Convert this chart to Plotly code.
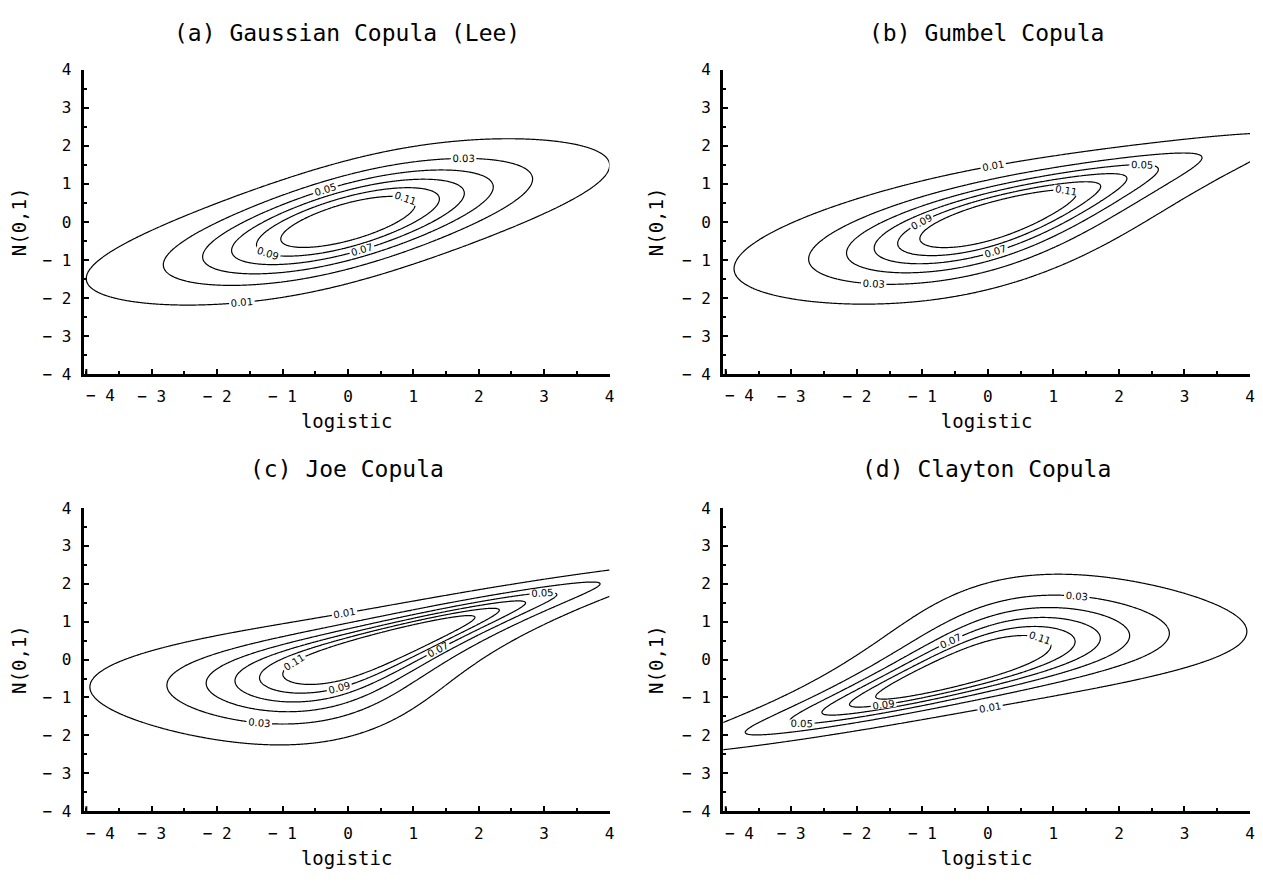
import numpy as np
import plotly.graph_objects as go
from statistics import NormalDist

# ---------------- data / model parameters ----------------
PANEL_TITLES = ["(a) Gaussian Copula (Lee)", "(b) Gumbel Copula",
                "(c) Joe Copula", "(d) Clayton Copula"]
COPULA_FAMILIES = ["gaussian", "gumbel", "joe", "clayton"]
COPULA_PARAMS = [0.71, 2.0, 2.9, 2.0]          # rho, theta, theta, theta
CONTOUR_LEVELS = [0.01, 0.03, 0.05, 0.07, 0.09, 0.11]
X_TICK_VALUES = [-3, -2, -1, 0, 1, 2, 3, 4]
X_TICK_TEXT = ["− 3", "− 2", "− 1", "0", "1", "2", "3", "4"]
X_FIRST_TICK_VALUE = -4
X_FIRST_TICK_TEXT = "− 4"
Y_TICK_VALUES = [-4, -3, -2, -1, 0, 1, 2, 3, 4]
Y_TICK_TEXT = ["− 4", "− 3", "− 2", "− 1", "0", "1", "2", "3", "4"]
X_RANGE = [-4.04, 4.0]
Y_RANGE = [-4.0, 4.0]
X_TITLE = "logistic"
Y_TITLE = "N(0,1)"

# ---------------- density on a grid ----------------
nd = NormalDist()
xs = np.linspace(-4.6, 4.6, 461)
ys = np.linspace(-4.6, 4.6, 461)
U1 = 1.0 / (1.0 + np.exp(-xs))            # logistic cdf
fx = U1 * (1.0 - U1)                        # logistic pdf
V1 = np.array([nd.cdf(v) for v in ys])      # normal cdf
fy = np.array([nd.pdf(v) for v in ys])
Z1 = np.array([nd.inv_cdf(u) for u in U1])

U, V = np.meshgrid(U1, V1)
ZX, ZY = np.meshgrid(Z1, ys)
FX, FY = np.meshgrid(fx, fy)


def copula_density(family, p):
    if family == "gaussian":
        r = p
        q = (r * r * (ZX ** 2 + ZY ** 2) - 2 * r * ZX * ZY) / (2 * (1 - r * r))
        return np.exp(-q) / np.sqrt(1 - r * r)
    if family == "gumbel":
        t = p
        lu, lv = -np.log(U), -np.log(V)
        A = lu ** t + lv ** t
        C = np.exp(-A ** (1 / t))
        return C / (U * V) * (lu * lv) ** (t - 1) * A ** (2 / t - 2) * (1 + (t - 1) * A ** (-1 / t))
    if family == "joe":
        t = p
        a, b = (1 - U) ** t, (1 - V) ** t
        S = a + b - a * b
        return S ** (1 / t - 2) * (1 - U) ** (t - 1) * (1 - V) ** (t - 1) * (t - 1 + S)
    if family == "clayton":
        t = p
        return (1 + t) * (U * V) ** (-t - 1) * (U ** (-t) + V ** (-t) - 1) ** (-2 - 1 / t)


# ---------------- layout geometry (page pixels; the page body has an 8px margin) ----------------
PAGE_OFFSET = 8
W, H = 1255, 866


def fx_(p):
    return (p - PAGE_OFFSET) / W


def fy_(p):
    return (H - (p - PAGE_OFFSET)) / H


X_DOMAINS = [[fx_(84), fx_(612)], [fx_(726), fx_(1255)]]
Y_DOMAINS = [[fy_(373), fy_(62)], [fy_(820), fy_(510)]]
TITLE_ROWS = [24, 470]

FONT = "DejaVu Sans Mono"
fig = go.Figure()
annotations = []
for i, (title, fam, par) in enumerate(zip(PANEL_TITLES, COPULA_FAMILIES, COPULA_PARAMS)):
    row, col = divmod(i, 2)
    ax = "" if i == 0 else str(i + 1)
    dens = copula_density(fam, par) * FX * FY
    fig.add_trace(go.Contour(
        x=xs, y=ys, z=dens,
        xaxis="x" + ax, yaxis="y" + ax,
        autocontour=False,
        contours=dict(start=CONTOUR_LEVELS[0], end=CONTOUR_LEVELS[-1],
                      size=CONTOUR_LEVELS[1] - CONTOUR_LEVELS[0],
                      coloring="lines", showlabels=True,
                      labelfont=dict(family="DejaVu Sans", size=10, color="black"),
                      labelformat=".2f"),
        line=dict(color="black", width=1.2),
        colorscale=[[0, "black"], [1, "black"]],
        showscale=False, hoverinfo="skip",
    ))
    xd, yd = X_DOMAINS[col], Y_DOMAINS[row]
    common = dict(showline=True, linecolor="black", linewidth=3, mirror=False,
                  ticks="inside", ticklen=5, tickwidth=2, tickcolor="black",
                  showgrid=False, zeroline=False, ticklabeloverflow="allow",
                  tickfont=dict(family=FONT, size=16, color="black"),
                  minor=dict(ticks="inside", ticklen=3, tickwidth=1.5, tickcolor="black",
                             dtick=0.5, tick0=0, showgrid=False))
    fig.layout["xaxis" + ax] = dict(
        domain=xd, anchor="y" + ax, range=X_RANGE,
        tickmode="array", tickvals=X_TICK_VALUES, ticktext=X_TICK_TEXT,
        ticklabelstandoff=6,
        title=dict(text=X_TITLE, font=dict(family=FONT, size=19, color="black"), standoff=10),
        **common)
    fig.layout["yaxis" + ax] = dict(
        domain=yd, anchor="x" + ax, range=Y_RANGE,
        tickmode="array", tickvals=Y_TICK_VALUES, ticktext=Y_TICK_TEXT,
        ticklabelstandoff=6,
        title=dict(text=Y_TITLE, font=dict(family=FONT, size=19, color="black"), standoff=14),
        **common)
    # major tick at -4 (its label sits just right of the vertical axis, as in the original)
    fig.add_shape(type="line", xref="x" + ax, yref="y" + ax,
                  x0=X_FIRST_TICK_VALUE, x1=X_FIRST_TICK_VALUE,
                  y0=Y_RANGE[0], y1=Y_RANGE[0] + 0.13,
                  line=dict(color="black", width=2))
    annotations.append(dict(
        text=X_FIRST_TICK_TEXT, xref="x" + ax, yref="y" + ax,
        x=X_FIRST_TICK_VALUE, y=Y_RANGE[0], xshift=14, yshift=-22,
        xanchor="center", yanchor="middle", showarrow=False,
        font=dict(family=FONT, size=16, color="black")))
    annotations.append(dict(
        text=title, xref="paper", yref="paper",
        x=(xd[0] + xd[1]) / 2, y=fy_(TITLE_ROWS[row]),
        xanchor="center", yanchor="middle", showarrow=False,
        font=dict(family=FONT, size=23, color="black")))

fig.update_layout(width=W, height=H, autosize=False,
                  margin=dict(l=0, r=0, t=0, b=0),
                  paper_bgcolor="white", plot_bgcolor="white",
                  showlegend=False, annotations=annotations)

fig.write_html("out.html")
